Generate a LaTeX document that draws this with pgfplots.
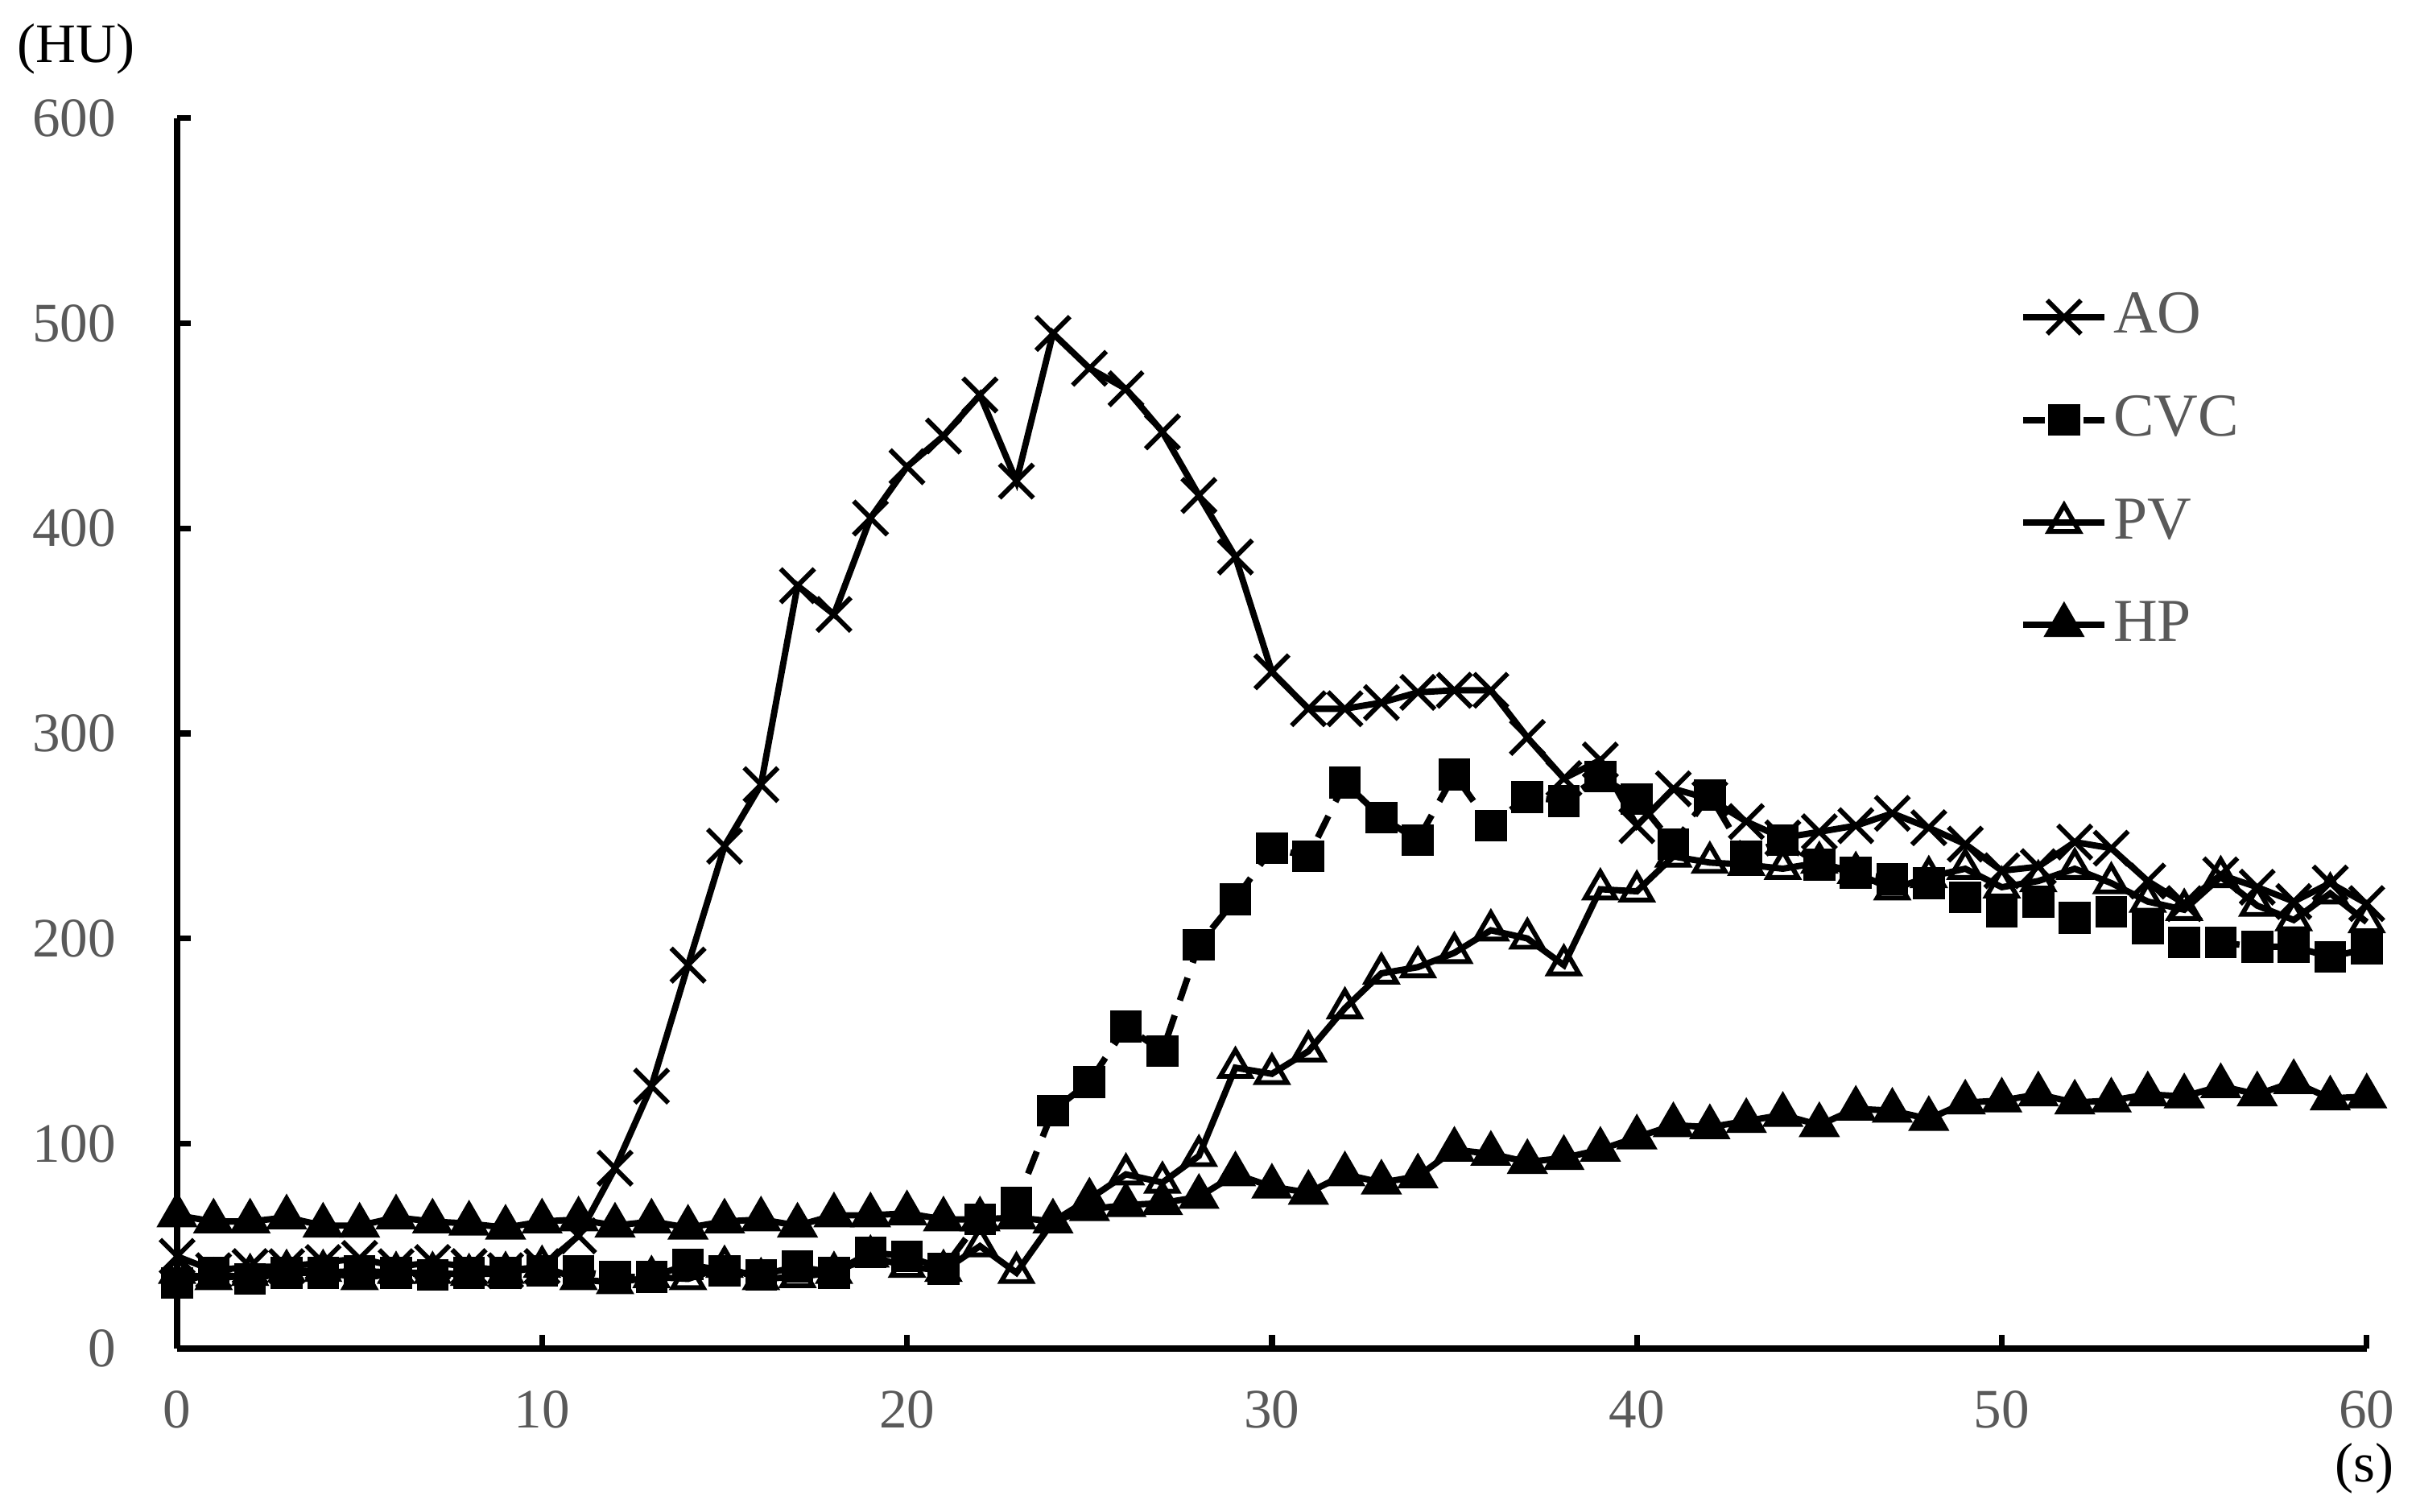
\documentclass[border=0pt]{standalone}
\usepackage{fontspec}
\setmainfont{Liberation Serif}
\usepackage{pgfplots}
\pgfplotsset{compat=1.18}
\definecolor{ticktxt}{HTML}{595959}

\pgfplotstableread{
t AO CVC PV HP
0 45 32 37 65
1 38 37 34 62
2 40 34 36 62
3 40 37 38 64
4 42 37 38 60
5 44 38 34 60
6 40 37 37 64
7 42 36 37 62
8 40 37 36 61
9 38 37 37 59
10 40 38 40 62
11 55 38 34 63
12 88 35 32 60
13 128 35 35 62
14 187 41 34 59
15 245 38 40 62
16 275 36 34 63
17 372 40 35 60
18 358 37 37 65
19 405 47 45 65
20 430 45 40 66
21 445 39 38 63
22 465 63 50 63
23 423 71 37 64
24 495 116 62 62
25 478 130 73 68
26 468 157 85 70
27 447 145 81 71
28 416 197 94 74
29 386 219 137 85
30 330 244 134 79
31 312 240 145 76
32 312 276 166 85
33 315 259 183 81
34 320 248 186 84
35 321 280 193 97
36 321 255 204 95
37 298 269 200 91
38 278 267 187 93
39 287 279 224 97
40 255 268 223 103
41 273 246 240 109
42 268 270 237 108
43 257 240 236 111
44 249 248 234 114
45 252 236 237 109
46 255 232 232 117
47 261 229 224 116
48 254 227 230 112
49 246 220 234 120
50 233 213 225 121
51 235 218 228 124
52 247 210 234 120
53 244 213 227 121
54 228 205 218 124
55 217 198 214 123
56 231 198 230 128
57 225 196 216 124
58 218 196 209 130
59 227 191 222 122
60 217 195 208 123
}\datatable

\begin{document}
\begin{tikzpicture}
\begin{axis}[
    scale only axis,
    width=14.52cm, height=8.16cm,
    xmin=0, xmax=60, ymin=0, ymax=600,
    xtick={0,10,...,60}, ytick={0,100,...,600},
    axis x line=bottom, axis y line=left,
    axis line style={line width=1.1pt, -},
    tick align=inside,
    major tick length=0.09cm,
    tick style={black, line width=1.1pt},
    tick label style={font=\fontsize{10.5}{12}\selectfont, text=ticktxt},
    xticklabel style={yshift=-4.5pt},
    yticklabel style={xshift=-8pt},
    /pgf/number format/assume math mode=true,
    clip=false,
    legend style={draw=none, fill=none, at={(rel axis cs:0.834,0.876)}, anchor=north west,
        font=\fontsize{11.5}{13}\selectfont, text=ticktxt, row sep=6.3pt,
        nodes={inner xsep=1pt}, legend cell align=left},
    legend image code/.code={
        \draw[mark repeat=2,mark phase=2] plot coordinates {(0cm,0cm) (0.27cm,0cm) (0.54cm,0cm)};
    },
]
\addplot[black, line width=1.2pt, mark=x, mark size=4.5pt, mark options={solid, line width=0.9pt}]
    table[x=t, y=AO] {\datatable};
\addlegendentry{AO}
\addplot[black, line width=1.2pt, dash pattern=on 4.5pt off 3pt, mark=square*, mark size=2.4pt, mark options={solid},
    legend image code/.code={
        \draw[dash pattern=on 0.14cm off 0.26cm, mark repeat=2, mark phase=2] plot coordinates {(0cm,0cm) (0.27cm,0cm) (0.54cm,0cm)};
    }]
    table[x=t, y=CVC] {\datatable};
\addlegendentry{CVC}
\addplot[black, line width=1.2pt, mark=triangle, mark size=3.3pt, mark options={solid, fill=white, line width=0.9pt}]
    table[x=t, y=PV] {\datatable};
\addlegendentry{PV}
\addplot[black, line width=1.2pt, mark=triangle*, mark size=3.3pt, mark options={solid}]
    table[x=t, y=HP] {\datatable};
\addlegendentry{HP}

\node[font=\fontsize{10.5}{12}\selectfont] at (rel axis cs:-0.046,1.056) {(HU)};
\node[font=\fontsize{10.5}{12}\selectfont] at (rel axis cs:0.999,-0.0975) {(s)};
\path (rel axis cs:-0.0794,1.096) (rel axis cs:1.0225,-0.1325);
\end{axis}
\end{tikzpicture}
\end{document}
